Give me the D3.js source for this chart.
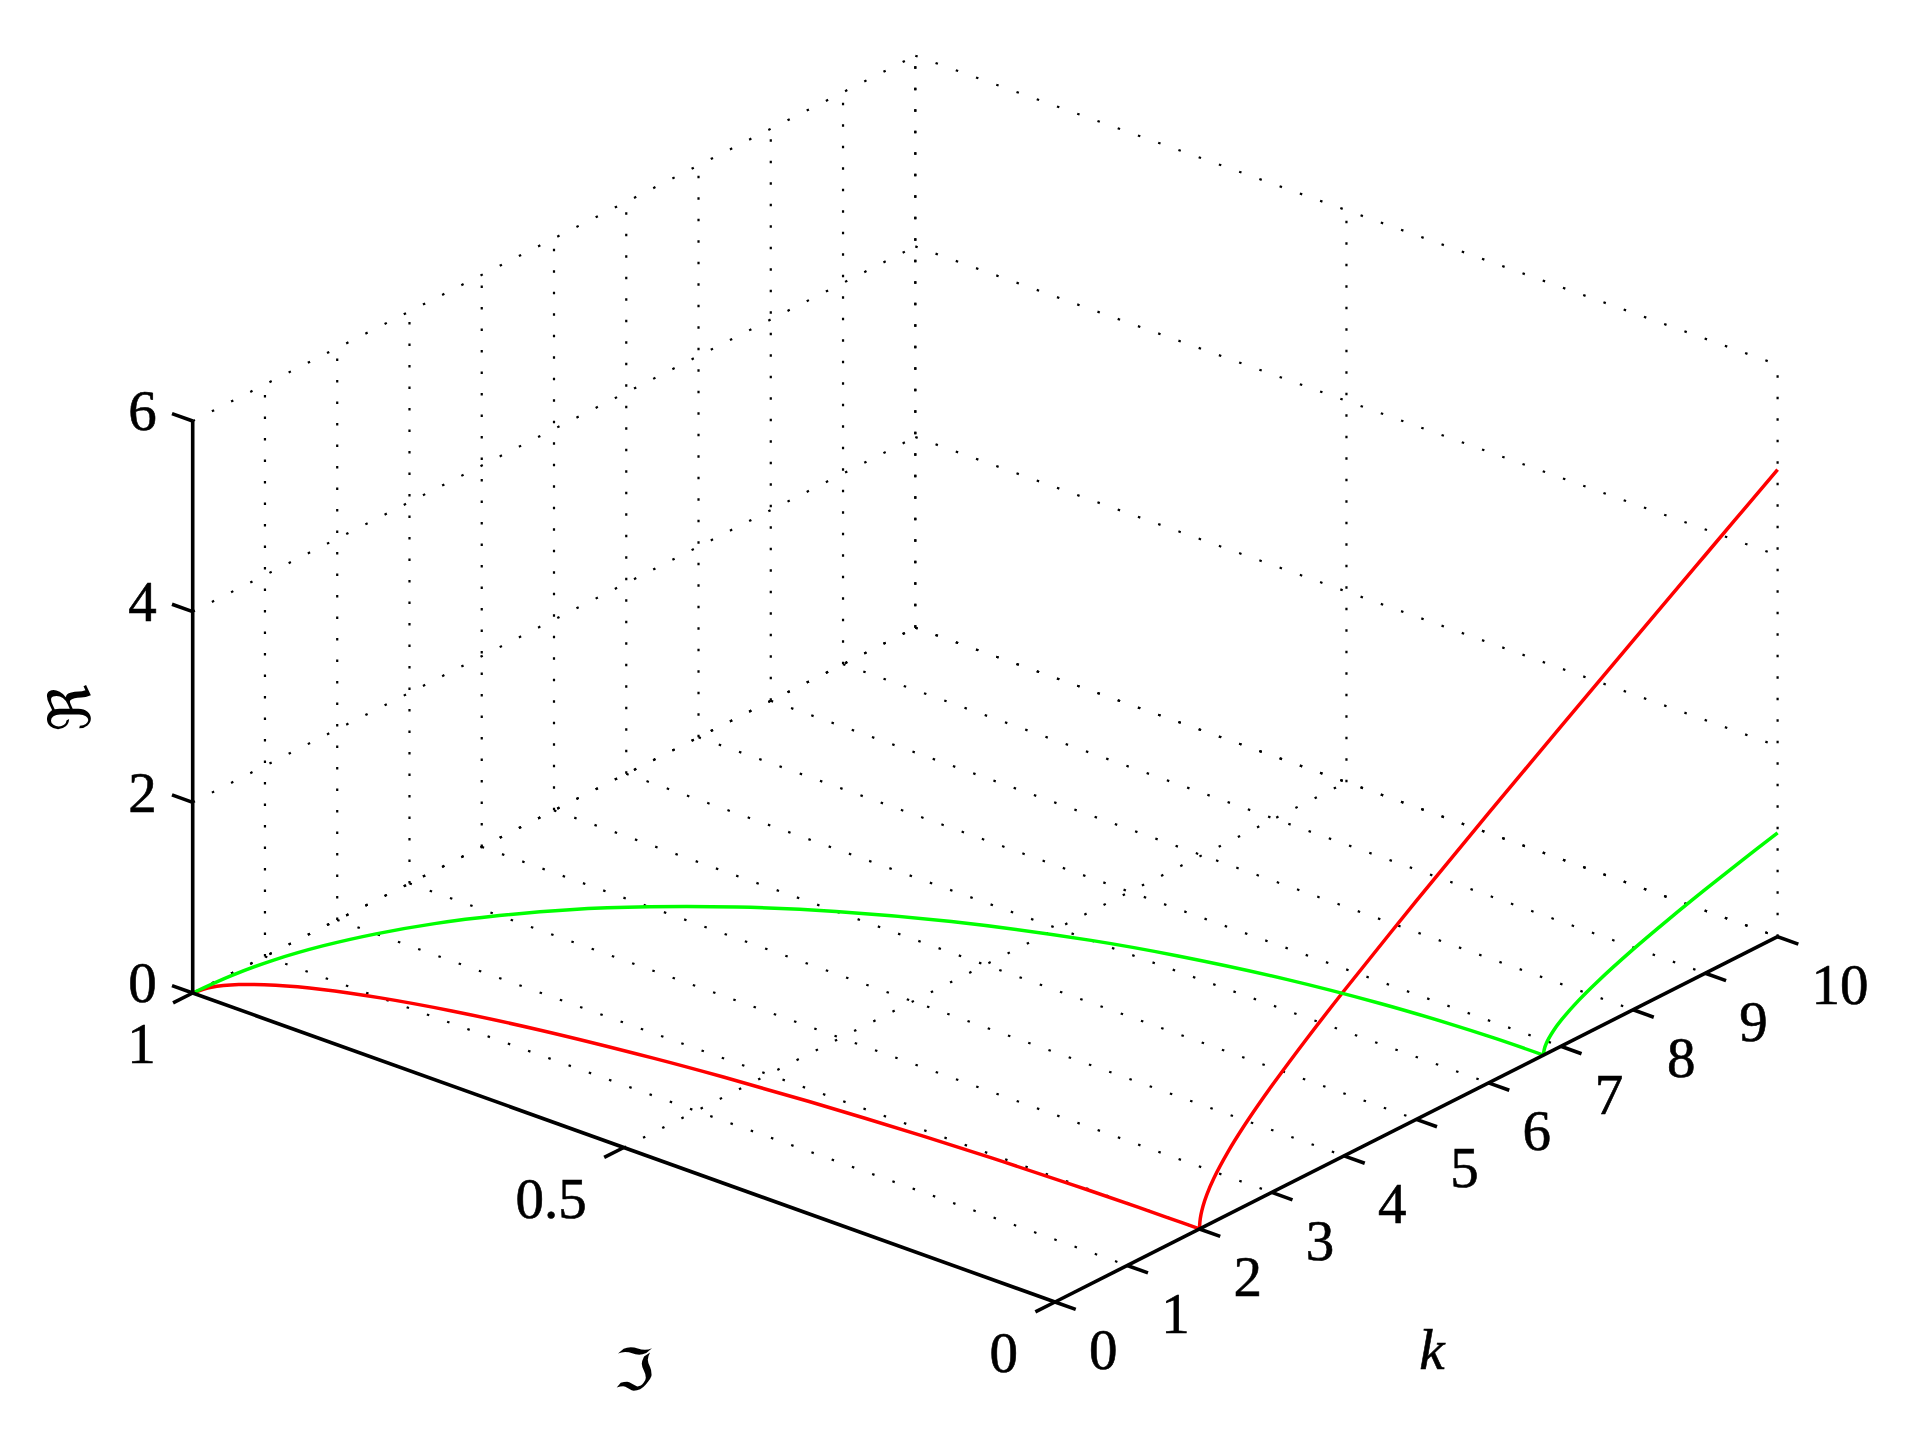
<!DOCTYPE html>
<html>
<head>
<meta charset="utf-8">
<script src="https://cdn.jsdelivr.net/npm/d3@7"></script>
<style>
  body { margin: 0; background: #fff; }
  text { font-family: "Liberation Serif", "Times New Roman", Times, serif; fill: #000; }
</style>
</head>
<body>
<div class="chart"></div>
<script>
// tick values
const reTicks = [0, 2, 4, 6];
const imTicks = [0, 0.5, 1];
const imTickLabels = ['0', '0.5', '1'];
const kTicks = [0, 1, 2, 3, 4, 5, 6, 7, 8, 9, 10];

// red branch, k < 2 (lies on the floor, Re = 0)
const redK1  = [0, 0.2, 0.4, 0.6, 0.8, 1.0, 1.2, 1.4, 1.6, 1.7, 1.8, 1.9, 1.95, 1.98, 1.995, 1.999, 2.0];
const redIm1 = [1, 0.995, 0.980, 0.954, 0.917, 0.866, 0.800, 0.714, 0.600, 0.527, 0.436, 0.312, 0.222, 0.141, 0.071, 0.032, 0];
const redRe1 = [0, 0, 0, 0, 0, 0, 0, 0, 0, 0, 0, 0, 0, 0, 0, 0, 0];
// red branch, k > 2 (Im = 0)
const redK2  = [2.0, 2.005, 2.02, 2.05, 2.1, 2.2, 2.4, 2.6, 2.8, 3.0, 3.5, 4, 5, 6, 7, 8, 9, 10];
const redIm2 = [0, 0, 0, 0, 0, 0, 0, 0, 0, 0, 0, 0, 0, 0, 0, 0, 0, 0];
const redRe2 = [0, 0.071, 0.142, 0.225, 0.320, 0.458, 0.663, 0.831, 0.980, 1.118, 1.436, 1.732, 2.291, 2.828, 3.354, 3.873, 4.387, 4.899];

// green branch, k < 6.76
const greenK1  = [0, 0.5, 1, 1.5, 2, 2.5, 3, 3.5, 4, 4.5, 5, 5.5, 6, 6.25, 6.5, 6.65, 6.72, 6.75, 6.76];
const greenIm1 = [1, 0.997, 0.989, 0.975, 0.955, 0.929, 0.896, 0.856, 0.806, 0.746, 0.673, 0.581, 0.461, 0.381, 0.275, 0.180, 0.109, 0.055, 0];
const greenRe1 = [0, 0, 0, 0, 0, 0, 0, 0, 0, 0, 0, 0, 0, 0, 0, 0, 0, 0, 0];
// green branch, k > 6.76
const greenK2  = [6.76, 6.77, 6.8, 6.9, 7.0, 7.25, 7.5, 8, 8.5, 9, 9.5, 10];
const greenIm2 = [0, 0, 0, 0, 0, 0, 0, 0, 0, 0, 0, 0];
const greenRe2 = [0, 0.054, 0.109, 0.204, 0.269, 0.388, 0.481, 0.633, 0.762, 0.879, 0.987, 1.090];

const width = 1929, height = 1454;
const fs = 57;

const svg = d3.select('.chart').append('svg')
    .attr('width', width)
    .attr('height', height)
    .attr('viewBox', [0, 0, width, height]);

// oblique 3d projection built from linear scales
const origin = [192.7, 993];
const imX = d3.scaleLinear().domain([1, 0]).range([0, 862.3]);
const imY = d3.scaleLinear().domain([1, 0]).range([0, 309]);
const kX = d3.scaleLinear().domain([0, 10]).range([0, 722.6]);
const kY = d3.scaleLinear().domain([0, 10]).range([0, -365.3]);
const reY = d3.scaleLinear().domain([0, 6]).range([0, -572]);

function P(k, im, re) {
    return [origin[0] + imX(im) + kX(k), origin[1] + imY(im) + kY(k) + reY(re)];
}

function unit(v) {
    const n = Math.hypot(v[0], v[1]);
    return [v[0] / n, v[1] / n];
}
const imDir = unit([imX(0) - imX(1), imY(0) - imY(1)]);   // towards Im = 0
const kDir = unit([kX(10) - kX(0), kY(10) - kY(0)]);       // towards k = 10

// grid
const grid = [];
kTicks.forEach(k => grid.push([P(k, 1, 0), P(k, 0, 0)]));
imTicks.forEach(im => grid.push([P(0, im, 0), P(10, im, 0)]));
reTicks.forEach(re => grid.push([P(0, 1, re), P(10, 1, re)]));
kTicks.forEach(k => grid.push([P(k, 1, 0), P(k, 1, 6)]));
reTicks.forEach(re => grid.push([P(10, 1, re), P(10, 0, re)]));
imTicks.forEach(im => grid.push([P(10, im, 0), P(10, im, 6)]));

svg.append('g')
    .selectAll('line')
    .data(grid)
    .join('line')
    .attr('x1', d => d[0][0]).attr('y1', d => d[0][1])
    .attr('x2', d => d[1][0]).attr('y2', d => d[1][1])
    .attr('stroke', '#000')
    .attr('stroke-width', 2.2)
    .attr('stroke-dasharray', '2.5 19');

// curves
const line = d3.line().curve(d3.curveCatmullRom.alpha(0.5));
const branches = [
    {k: redK1, im: redIm1, re: redRe1, color: '#ff0000'},
    {k: redK2, im: redIm2, re: redRe2, color: '#ff0000'},
    {k: greenK1, im: greenIm1, re: greenRe1, color: '#00ff00'},
    {k: greenK2, im: greenIm2, re: greenRe2, color: '#00ff00'}
];
svg.append('g')
    .selectAll('path')
    .data(branches)
    .join('path')
    .attr('d', b => line(b.k.map((k, i) => P(k, b.im[i], b.re[i]))))
    .attr('fill', 'none')
    .attr('stroke', b => b.color)
    .attr('stroke-width', 3.5);

// axes
const axes = svg.append('g').attr('stroke', '#000').attr('stroke-width', 3.6).attr('fill', 'none');
const seg = (a, b) => axes.append('line')
    .attr('x1', a[0]).attr('y1', a[1]).attr('x2', b[0]).attr('y2', b[1]);
seg(P(0, 1, 0), P(0, 1, 6));
seg(P(0, 1, 0), P(0, 0, 0));
seg(P(0, 0, 0), P(10, 0, 0));

const tl = 22;
reTicks.forEach(re => {
    const p = P(0, 1, re);
    seg(p, [p[0] - imDir[0] * tl, p[1] - imDir[1] * tl]);
});
imTicks.forEach(im => {
    const p = P(0, im, 0);
    seg(p, [p[0] - kDir[0] * tl, p[1] - kDir[1] * tl]);
});
kTicks.forEach(k => {
    const p = P(k, 0, 0);
    seg(p, [p[0] + imDir[0] * tl, p[1] + imDir[1] * tl]);
});

// tick labels
const labels = svg.append('g').attr('font-size', fs)
    .attr('stroke', '#000').attr('stroke-width', 0.6);
const base = 0.34 * fs;
reTicks.forEach(re => {
    const p = P(0, 1, re);
    labels.append('text')
        .attr('x', p[0] - 36).attr('y', p[1] - 10 + base)
        .attr('text-anchor', 'end')
        .text(re);
});
imTicks.forEach((im, i) => {
    const p = P(0, im, 0);
    labels.append('text')
        .attr('x', p[0] - 37).attr('y', p[1] + 51 + base)
        .attr('text-anchor', 'end')
        .text(imTickLabels[i]);
});
kTicks.forEach(k => {
    const p = P(k, 0, 0);
    labels.append('text')
        .attr('x', p[0] + 34).attr('y', p[1] + 48 + base)
        .attr('text-anchor', 'start')
        .text(k);
});

// axis titles
svg.append('text')
    .attr('transform', 'translate(70,708) rotate(-90)')
    .attr('text-anchor', 'middle')
    .attr('dominant-baseline', 'central')
    .style('font-family', '"DejaVu Serif", "DejaVu Sans", serif')
    .attr('font-size', 58)
    .text('\u211C');

svg.append('text')
    .attr('x', 634).attr('y', 1370)
    .attr('text-anchor', 'middle')
    .attr('dominant-baseline', 'central')
    .style('font-family', '"DejaVu Serif", "DejaVu Sans", serif')
    .attr('font-size', 58)
    .text('\u2111');

svg.append('text')
    .attr('x', 1432).attr('y', 1350 + base)
    .attr('text-anchor', 'middle')
    .attr('font-size', fs)
    .attr('font-style', 'italic')
    .attr('stroke', '#000').attr('stroke-width', 0.6)
    .text('k');
</script>
</body>
</html>
